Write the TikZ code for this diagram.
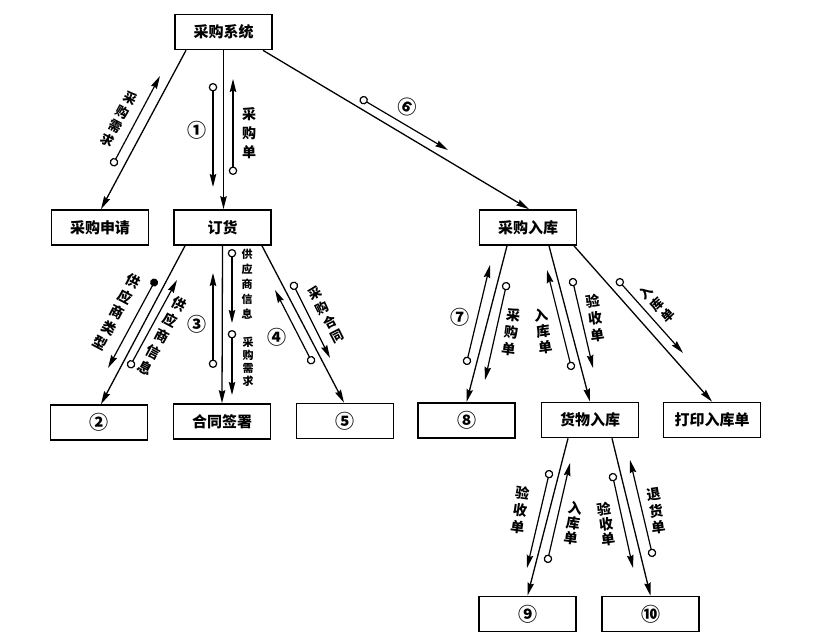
\documentclass[tikz,border=0pt]{standalone}
\usepackage{fontspec}
\setmainfont{Noto Sans CJK SC}
\usetikzlibrary{arrows.meta}
\tikzset{
  box/.style={draw, line width=1.7pt, minimum width=97pt, minimum height=35pt, inner sep=0pt, font=\fontsize{15}{15}\selectfont\bfseries},
  head/.tip={Stealth[length=13pt,width=6.5pt,inset=1.5pt]},
  link/.style={line width=1.3pt, -head},
  flow/.style={line width=1.2pt, {Circle[open,length=8.5pt,width=8.5pt]}-head},
  flowdot/.style={line width=1.2pt, {Circle[length=8pt,width=8pt]}-head},
  lab/.style={font=\fontsize{13}{16}\selectfont\bfseries, align=center, inner sep=0pt},
  num/.style={font=\fontsize{19}{19}\selectfont\bfseries, inner sep=0pt},
}
\begin{document}
\begin{tikzpicture}[x=1pt,y=-1pt]
\useasboundingbox (0,0) rectangle (815,644);
% boxes
\node[box] (sys) at (223.5,32) {采购系统};
\node[box] (req) at (100,227.5) {采购申请};
\node[box] (ord) at (222.5,227.5) {订货};
\node[box] (ware) at (528,227.5) {采购入库};
\node[box, font=\fontsize{19}{19}\selectfont\bfseries] (b2) at (99,422.5) {②};
\node[box] (sign) at (222,421.5) {合同签署};
\node[box, font=\fontsize{19}{19}\selectfont\bfseries] (b5) at (345,421) {⑤};
\node[box, font=\fontsize{19}{19}\selectfont\bfseries] (b8) at (466.5,420.5) {⑧};
\node[box] (goods) at (590,420) {货物入库};
\node[box] (print) at (712,420) {打印入库单};
\node[box, font=\fontsize{19}{19}\selectfont\bfseries] (b9) at (527.5,614) {⑨};
\node[box, font=\fontsize{19}{19}\selectfont\bfseries] (b10) at (650.5,614) {⑩};
% main connectors
\draw[link] ([xshift=-37.5pt]sys.south) -- ([xshift=1pt]req.north);
\draw[link] (sys.south) -- ([xshift=1pt]ord.north);
\draw[link] ([xshift=39.5pt]sys.south) -- ([xshift=1pt]ware.north);
\draw[link] ([xshift=-37.5pt]ord.south) -- ([xshift=2pt]b2.north);
\draw[link] (ord.south) -- (sign.north);
\draw[link] ([xshift=39.5pt]ord.south) -- ([xshift=-1pt]b5.north);
\draw[link] ([xshift=-21pt]ware.south) -- (b8.north);
\draw[link] ([xshift=21pt]ware.south) -- (goods.north);
\draw[link] ([xshift=46pt]ware.south) -- (print.north);
\draw[link] ([xshift=-22pt]goods.south) -- (b9.north);
\draw[link] ([xshift=22pt]goods.south) -- (b10.north);
% flow arrow end points
\coordinate (f1a) at (112,166);  \coordinate (f1b) at (160,76);
\coordinate (f2a) at (213,83);   \coordinate (f2b) at (213,187);
\coordinate (f3a) at (233,175);  \coordinate (f3b) at (233,79);
\coordinate (f4a) at (360,98);   \coordinate (f4b) at (448,150);
\coordinate (f5a) at (156,279);  \coordinate (f5b) at (108,368);
\coordinate (f6a) at (129,368);  \coordinate (f6b) at (177,280);
\coordinate (f7a) at (213,368);  \coordinate (f7b) at (213,273);
\coordinate (f8a) at (232,249);  \coordinate (f8b) at (232,323);
\coordinate (f9a) at (232,330);  \coordinate (f9b) at (232,395);
\coordinate (f10a) at (313,364); \coordinate (f10b) at (275,290);
\coordinate (f11a) at (292,282); \coordinate (f11b) at (330,358);
\coordinate (f12a) at (466,365); \coordinate (f12b) at (490,265);
\coordinate (f13a) at (507,282); \coordinate (f13b) at (485,380);
\coordinate (f14a) at (572,370); \coordinate (f14b) at (547,270);
\coordinate (f15a) at (572,278); \coordinate (f15b) at (593,368);
\coordinate (f16a) at (617,279); \coordinate (f16b) at (683,353);
\coordinate (f17a) at (550,470); \coordinate (f17b) at (527,568);
\coordinate (f18a) at (547,563); \coordinate (f18b) at (570,463);
\coordinate (f19a) at (612,473); \coordinate (f19b) at (633,568);
\coordinate (f20a) at (653,557); \coordinate (f20b) at (630,460);
% flow arrows
\draw[flow] (f1a) -- (f1b);
\draw[flow] (f2a) -- (f2b);
\draw[flow] (f3a) -- (f3b);
\draw[flow] (f4a) -- (f4b);
\draw[flowdot] (f5a) -- (f5b);
\draw[flow] (f6a) -- (f6b);
\draw[flow] (f7a) -- (f7b);
\draw[flow] (f8a) -- (f8b);
\draw[flow] (f9a) -- (f9b);
\draw[flow] (f10a) -- (f10b);
\draw[flow] (f11a) -- (f11b);
\draw[flow] (f12a) -- (f12b);
\draw[flow] (f13a) -- (f13b);
\draw[flow] (f14a) -- (f14b);
\draw[flow] (f15a) -- (f15b);
\draw[flow] (f16a) -- (f16b);
\draw[flow] (f17a) -- (f17b);
\draw[flow] (f18a) -- (f18b);
\draw[flow] (f19a) -- (f19b);
\draw[flow] (f20a) -- (f20b);
% labels
\node[lab, rotate=-28] (l1) at (119,119) {采\\购\\需\\求};
\node[num] (n1) at (197,130) {①};
\node[lab, font=\fontsize{14}{19}\selectfont\bfseries] (l3) at (249,133) {采\\购\\单};
\node[num, rotate=-30] (n6) at (407,107) {⑥};
\node[lab, font=\fontsize{14}{17.5}\selectfont\bfseries, rotate=-28] (l5) at (117,312) {供\\应\\商\\类\\型};
\node[lab, font=\fontsize{14}{18}\selectfont\bfseries, rotate=-28] (l6) at (162,336) {供\\应\\商\\信\\息};
\node[num] (n3) at (197,324) {③};
\node[lab, font=\fontsize{11}{15}\selectfont\bfseries] (l8) at (247,284) {供\\应\\商\\信\\息};
\node[lab, font=\fontsize{11}{13}\selectfont\bfseries] (l9) at (248,362) {采\\购\\需\\求};
\node[num] (n4) at (277,337) {④};
\node[lab, rotate=27] (l11) at (326,315) {采\\购\\合\\同};
\node[num] (n7) at (460,317) {⑦};
\node[lab, font=\fontsize{14}{17}\selectfont\bfseries, rotate=-8] (l13) at (511,332) {采\\购\\单};
\node[lab, font=\fontsize{14}{16}\selectfont\bfseries, rotate=8] (l14) at (543,331) {入\\库\\单};
\node[lab, font=\fontsize{14}{17}\selectfont\bfseries, rotate=8] (l15) at (595,318) {验\\收\\单};
\node[lab, rotate=43] (l16) at (657,304) {入\\库\\单};
\node[lab, font=\fontsize{14}{17}\selectfont\bfseries, rotate=-8] (l17) at (520,510) {验\\收\\单};
\node[lab, font=\fontsize{14}{15}\selectfont\bfseries, rotate=-8] (l18) at (573,523) {入\\库\\单};
\node[lab, font=\fontsize{14}{15}\selectfont\bfseries, rotate=8] (l19) at (606,524) {验\\收\\单};
\node[lab, font=\fontsize{14}{17}\selectfont\bfseries, rotate=8] (l20) at (656,511) {退\\货\\单};
\end{tikzpicture}
\end{document}
